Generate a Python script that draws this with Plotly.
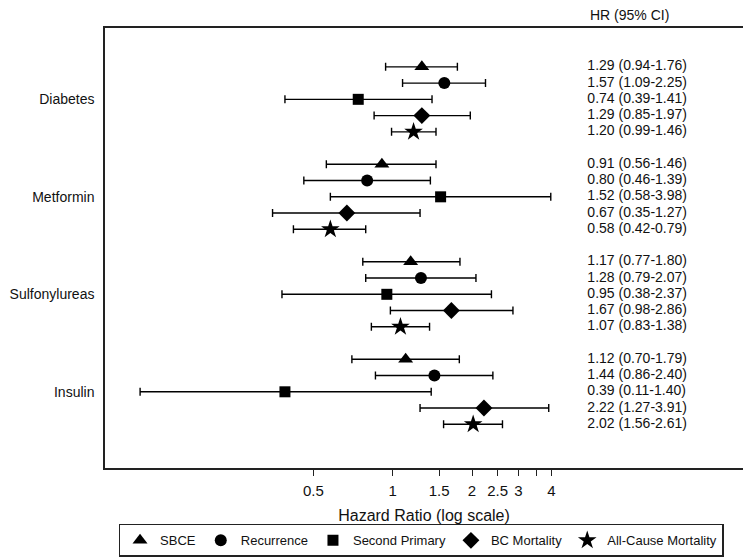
import math
import plotly.graph_objects as go

# ---------------- data ----------------
categories = ["Diabetes", "Metformin", "Sulfonylureas", "Insulin"]
outcomes = ["SBCE", "Recurrence", "Second Primary", "BC Mortality", "All-Cause Mortality"]

# one list per outcome, values in category order
hr = {
    "SBCE":                [1.29, 0.91, 1.17, 1.12],
    "Recurrence":          [1.57, 0.80, 1.28, 1.44],
    "Second Primary":      [0.74, 1.52, 0.95, 0.39],
    "BC Mortality":        [1.29, 0.67, 1.67, 2.22],
    "All-Cause Mortality": [1.20, 0.58, 1.07, 2.02],
}
lo = {
    "SBCE":                [0.94, 0.56, 0.77, 0.70],
    "Recurrence":          [1.09, 0.46, 0.79, 0.86],
    "Second Primary":      [0.39, 0.58, 0.38, 0.11],
    "BC Mortality":        [0.85, 0.35, 0.98, 1.27],
    "All-Cause Mortality": [0.99, 0.42, 0.83, 1.56],
}
hi = {
    "SBCE":                [1.76, 1.46, 1.80, 1.79],
    "Recurrence":          [2.25, 1.39, 2.07, 2.40],
    "Second Primary":      [1.41, 3.98, 2.37, 1.40],
    "BC Mortality":        [1.97, 1.27, 2.86, 3.91],
    "All-Cause Mortality": [1.46, 0.79, 1.38, 2.61],
}
tick_vals = [0.5, 1, 1.5, 2, 2.5, 3, 3.5, 4]
tick_text = ["0.5", "1", "1.5", "2", "2.5", "3", "", "4"]

symbols = {
    "SBCE": ("triangle-up", 13),
    "Recurrence": ("circle", 12),
    "Second Primary": ("square", 11),
    "BC Mortality": ("diamond", 13),
    "All-Cause Mortality": ("star", 14),
}

FONT = "Liberation Sans, Arial, Helvetica, sans-serif"

def row_pos(g, i):
    return g * 6 + i

fig = go.Figure()

for i, name in enumerate(outcomes):
    ys = [row_pos(g, i) for g in range(len(categories))]
    xs = hr[name]
    plus = [h - m for h, m in zip(hi[name], xs)]
    minus = [m - l for m, l in zip(xs, lo[name])]
    sym, sz = symbols[name]
    fig.add_trace(go.Scatter(
        x=xs, y=ys, mode="markers", name=name,
        marker=dict(symbol=sym, size=sz, color="black", line=dict(width=0)),
        error_x=dict(type="data", symmetric=False, array=plus, arrayminus=minus,
                     color="black", thickness=1.4, width=4),
    ))

text_y, text_s = [], []
for g in range(len(categories)):
    for i, name in enumerate(outcomes):
        text_y.append(row_pos(g, i))
        text_s.append(f"{hr[name][g]:.2f} ({lo[name][g]:.2f}-{hi[name][g]:.2f})")

fig.add_trace(go.Scatter(
    x=[5.48] * len(text_y), y=text_y, mode="text", text=text_s,
    textposition="middle right", showlegend=False, hoverinfo="skip",
    textfont=dict(family=FONT, size=14, color="#111"),
))

fig.add_shape(type="line", xref="x", yref="paper", x0=0, x1=0, y0=0, y1=1,
              line=dict(color="#8a8a8a", width=1), layer="below")

fig.add_annotation(text="HR (95% CI)", xref="x", yref="paper", x=0.742, y=1.029,
                   xanchor="left", yanchor="middle", showarrow=False,
                   font=dict(family=FONT, size=14, color="#111"))

fig.update_layout(
    width=743, height=550,
    margin=dict(l=97, r=8, t=20, b=90, autoexpand=False),
    paper_bgcolor="white", plot_bgcolor="white",
    font=dict(family=FONT, size=14, color="#111"),
    showlegend=True,
    legend=dict(orientation="h", xref="container", yref="container",
                x=0.5559, xanchor="center", y=0.062, yanchor="top",
                bordercolor="#222", borderwidth=1.5, font=dict(size=13),
                itemwidth=30, tracegroupgap=0),
)
fig.update_xaxes(
    type="log", range=[-1.0918, 1.3294],
    tickvals=tick_vals, ticktext=tick_text,
    ticks="outside", ticklen=6, tickwidth=1.2, tickcolor="#222",
    showgrid=False, zeroline=False,
    showline=True, mirror=True, linecolor="#222", linewidth=1.5,
    tickfont=dict(size=15), ticklabelstandoff=2,
    title=dict(text="Hazard Ratio (log scale)", font=dict(size=16), standoff=14),
)
fig.update_yaxes(
    range=[24.69, -2.39],
    tickvals=[row_pos(g, 2) for g in range(len(categories))], ticktext=categories,
    ticks="", showgrid=False, zeroline=False,
    showline=True, mirror=True, linecolor="#222", linewidth=1.5,
    tickfont=dict(size=14), ticklabelstandoff=6,
)

fig.write_html("out.html")
